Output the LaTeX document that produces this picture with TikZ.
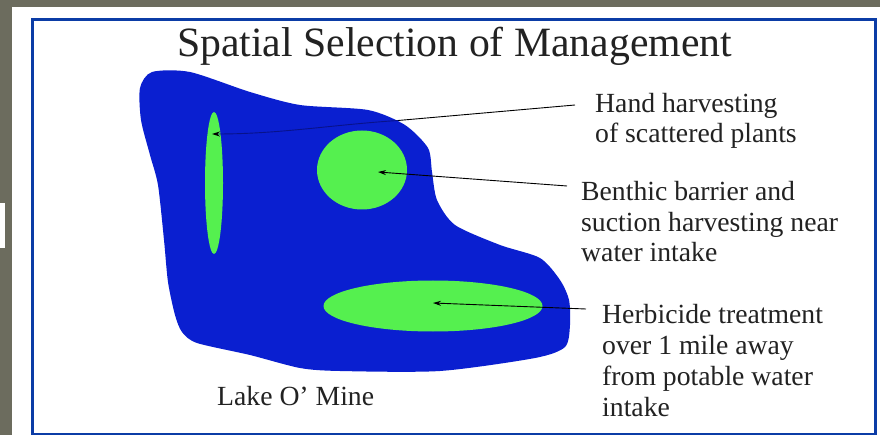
\documentclass[tikz,border=0pt]{standalone}
\usepackage{fontspec}
\setmainfont{Liberation Serif}
\usetikzlibrary{shapes.geometric,arrows.meta}
\definecolor{slate}{HTML}{6C6C5E}
\definecolor{frameblue}{HTML}{0B3CA6}
\definecolor{lakeblue}{HTML}{0A1FD0}
\definecolor{deepblue}{HTML}{08128A}
\definecolor{patchgreen}{HTML}{55F04F}
\definecolor{inkgrey}{HTML}{222222}
\tikzset{
  patch/.style={ellipse,fill=patchgreen,inner sep=0pt,draw=none},
  lbl/.style={anchor=base west,align=left,inner sep=0pt,text=inkgrey,font=\fontsize{27.7}{30.8}\selectfont},
  lead/.style={draw=black,line width=0.9pt,-{Stealth[length=8pt,width=5pt,black]}}
}
\begin{document}
\begin{tikzpicture}[x=1pt,y=-1pt]
\useasboundingbox (0,0) rectangle (880,435);
\fill[slate] (0,0) rectangle (880,435);
\fill[white] (12,7) rectangle (880,435);
\fill[white] (0,203) rectangle (5,248);
\draw[frameblue,line width=3pt] (32.5,20) rectangle (875,434);
\fill[lakeblue] plot[smooth cycle,tension=0.45] coordinates {
 (140,88) (152,72) (190,72) (250,92) (300,105) (368,110) (405,125) (428,148)
 (432,172) (437,200) (455,225) (500,245) (540,258) (560,280) (569,300) (570,325)
 (565,347) (535,358) (440,371) (340,371) (300,368) (250,355) (197,343) (182,332)
 (175,315) (168,282) (164,240) (158,185) (150,155) (141,120)};
\node[patch,minimum width=18pt,minimum height=142pt] (strip) at (214,183) {};
\node[patch,minimum width=90pt,minimum height=79pt] (round) at (362,170) {};
\node[patch,minimum width=219pt,minimum height=51pt] (oval) at (433,306) {};
\node[anchor=base west,inner sep=0pt,text=inkgrey,font=\fontsize{41.7}{46}\selectfont] (title) at (177,57) {Spatial Selection of Management};
\node[lbl] (hand) at (595,143) {Hand harvesting\\of scattered plants};
\node[lbl] (benthic) at (581,262) {Benthic barrier and\\suction harvesting near\\water intake};
\node[lbl] (herb) at (602,416) {Herbicide treatment\\over 1 mile away\\from potable water\\intake};
\node[lbl] (lake) at (217,405) {Lake O' Mine};
\coordinate (handFrom) at (575,105);
\coordinate (handBend) at (398,120.5);
\coordinate (benthicFrom) at (567,186);
\coordinate (herbFrom) at (586,309);
\coordinate (stripTo) at (212,134);
\coordinate (roundTo) at (378,172);
\coordinate (ovalTo) at (433,303);
\draw[draw=black,line width=0.9pt] (handFrom) -- (handBend);
\draw[lead,draw=deepblue] (handBend) .. controls (330,125) and (280,134) .. (stripTo);
\draw[lead] (benthicFrom) -- (roundTo);
\draw[lead] (herbFrom) -- (ovalTo);
\end{tikzpicture}
\end{document}
